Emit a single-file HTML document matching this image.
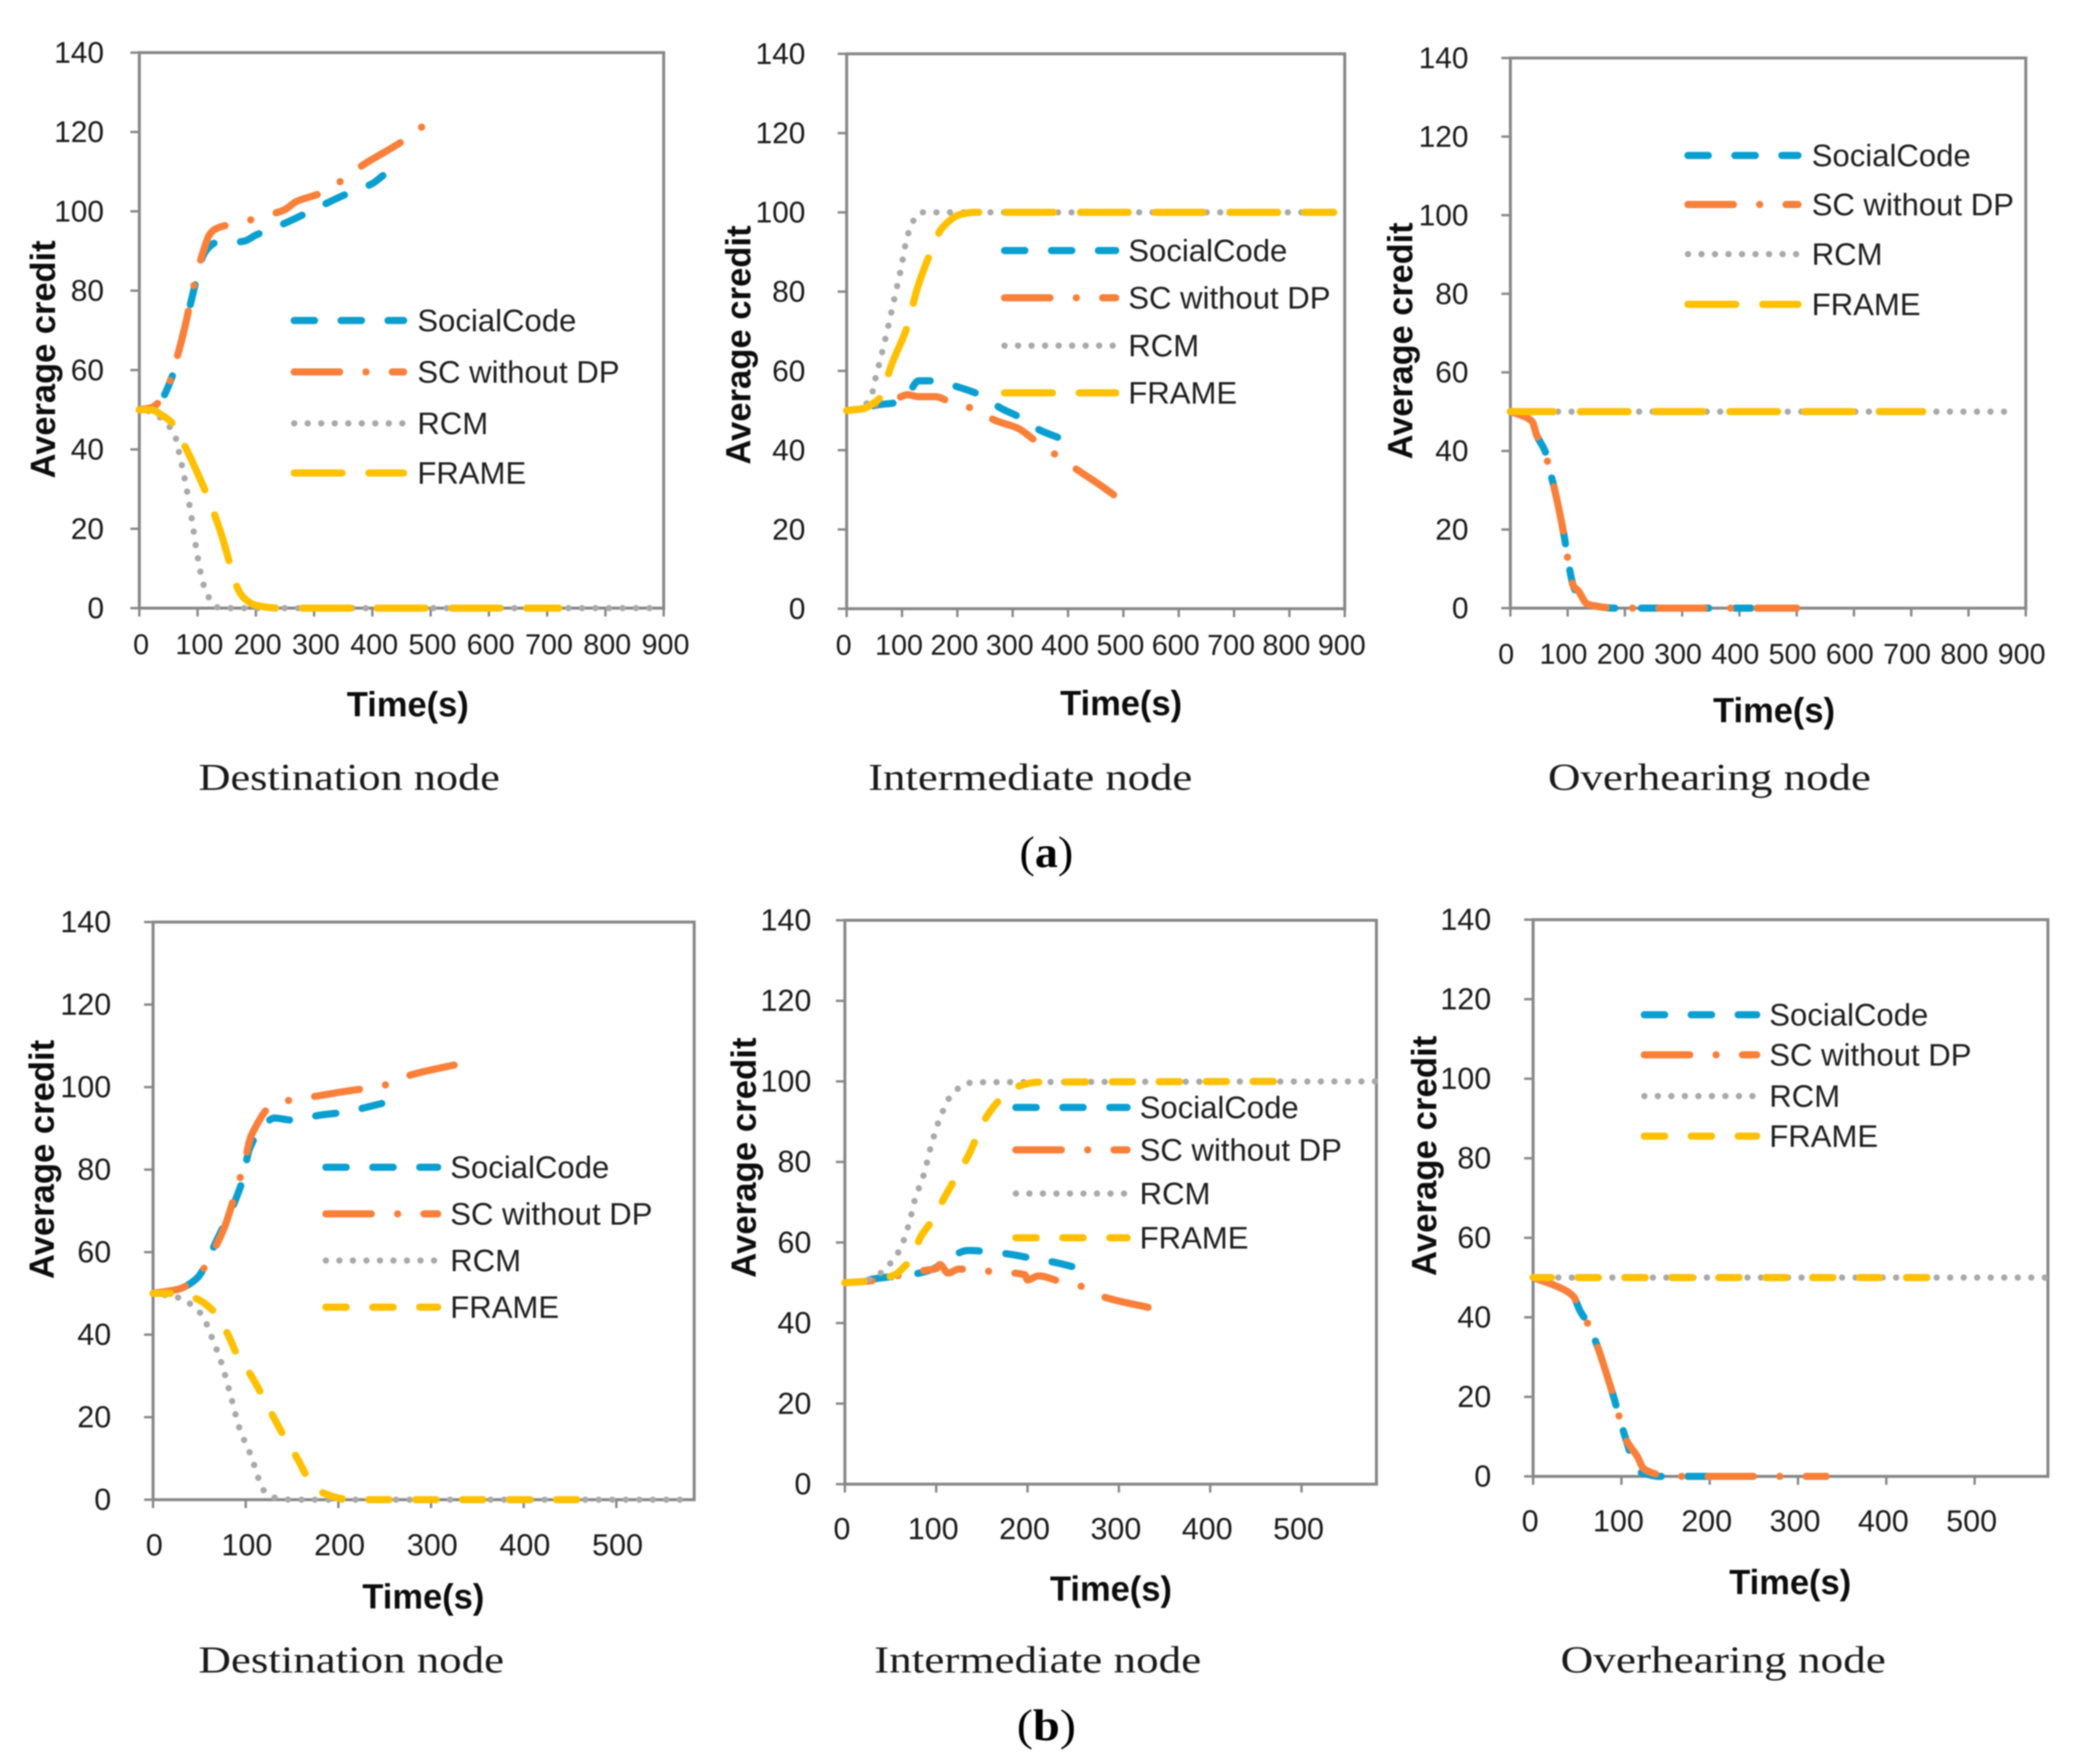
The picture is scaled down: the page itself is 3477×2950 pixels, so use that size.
<!DOCTYPE html>
<html lang="en">
<head>
<meta charset="utf-8">
<title>Average credit over time</title>
<style>
html,body{margin:0;padding:0;background:#fff;width:3477px;height:2950px;overflow:hidden}
svg{display:block;filter:blur(1px)}
.tick{font-family:"Liberation Sans",sans-serif;fill:#1a1a1a}
.legend-text{font-family:"Liberation Sans",sans-serif;font-size:52px;fill:#1f1f1f}
.axis-title{font-family:"Liberation Sans",sans-serif;font-weight:bold;font-size:58px;fill:#0d0d0d}
.caption{font-family:"Liberation Serif",serif;font-size:63px;fill:#1a1a1a}
.figure-label{font-family:"Liberation Serif",serif;font-size:74px;fill:#000}
</style>
</head>
<body>
<svg id="figure" xmlns="http://www.w3.org/2000/svg" width="3477" height="2950" viewBox="0 0 3477 2950">
<rect x="0" y="0" width="3477" height="2950" fill="#ffffff"/>
<text class="figure-label" x="1750" y="1450" text-anchor="middle" textLength="90" lengthAdjust="spacingAndGlyphs">(<tspan font-weight="bold">a</tspan>)</text>
<text class="figure-label" x="1750" y="2910" text-anchor="middle" textLength="99" lengthAdjust="spacingAndGlyphs">(<tspan font-weight="bold">b</tspan>)</text>
</svg>
<script>
/* Shared axis labels */
const yTickLabels = [0, 20, 40, 60, 80, 100, 120, 140];
const xTickLabelsA = [0, 100, 200, 300, 400, 500, 600, 700, 800, 900];
const xTickLabelsB = [0, 100, 200, 300, 400, 500];
const seriesNames = ['SocialCode', 'SC without DP', 'RCM', 'FRAME'];

/* (a) Destination node */
const a1SocialT = [0, 20, 40, 50, 60, 70, 80, 90, 100, 110, 120, 130, 150, 180, 200, 250, 300, 350, 400, 418];
const a1SocialY = [50, 50.5, 53, 56, 60, 66, 72, 78, 84, 89, 91, 92, 92, 92.5, 94, 97, 100.5, 104, 107, 109];
const a1OrangeT = [0, 20, 40, 50, 60, 70, 80, 90, 100, 110, 120, 130, 150, 170, 208, 248, 270, 310, 350, 381, 452, 488];
const a1OrangeY = [50, 50.5, 53, 56, 61, 66, 72, 79, 85, 90, 94, 95.5, 96.5, 97, 98.6, 100.3, 102.5, 104.5, 108, 111.4, 117.7, 121.6];
const a1RcmT = [0, 20, 40, 50, 60, 70, 80, 90, 100, 110, 120, 130, 140, 880];
const a1RcmY = [50, 49.5, 47.5, 46, 44, 38, 31, 22.5, 13, 6, 2.5, 0.5, 0, 0];
const a1FrameT = [0, 20, 40, 50, 60, 70, 82, 100, 118, 140, 157, 169, 180, 200, 240, 720];
const a1FrameY = [50, 50, 48.5, 47.5, 46, 43, 39.7, 34, 27.8, 19, 10.4, 4.9, 2.5, 0.7, 0, 0];

/* (a) Intermediate node */
const a2SocialT = [0, 60, 90, 110, 130, 160, 200, 240, 280, 310, 350, 386];
const a2SocialY = [50, 51.5, 52, 54, 57.5, 57.5, 56, 54, 50.5, 48.5, 45, 43];
const a2OrangeT = [0, 30, 60, 90, 110, 130, 160, 204, 231, 267, 310, 338, 374, 414, 460, 485];
const a2OrangeY = [50, 50.5, 52, 53, 54, 53.5, 53.5, 51, 50.6, 47.6, 45.5, 42.7, 39.2, 35.3, 31, 28.5];
const a2RcmT = [0, 30, 45, 53, 61, 73, 81, 89, 97, 109, 120, 135, 880];
const a2RcmY = [50, 51, 54, 58.7, 63, 70, 75, 80, 85, 93.6, 97.8, 100, 100];
const a2FrameT = [0, 30, 50, 65, 75, 81, 109, 128, 152, 172, 204, 230, 880];
const a2FrameY = [50, 50.5, 52, 54, 59, 61.5, 71, 81, 90, 96, 99.4, 100, 100];

/* (a) Overhearing node */
const a3SocialT = [0, 20, 38, 46, 62, 66, 76, 94, 102, 110, 115, 120, 130, 150, 180, 420];
const a3SocialY = [50, 49, 47.5, 44, 39.4, 36.5, 31, 18.3, 11, 5.6, 4, 3, 1.5, 0.5, 0, 0];
const a3OrangeT = [0, 20, 38, 46, 62, 66, 76, 94, 102, 110, 118, 134, 158, 190, 500];
const a3OrangeY = [50, 49, 47.5, 44, 39.4, 36.5, 31, 18.3, 11, 5.6, 4.5, 1.1, 0.3, 0, 0];
const a3RcmT = [0, 865];
const a3RcmY = [50, 50];
const a3FrameT = [0, 720];
const a3FrameY = [50, 50];

/* (b) Destination node */
const b1SocialT = [0, 27, 47, 69, 96, 104, 116, 131, 150, 180, 205, 254];
const b1SocialY = [50, 51, 53.6, 63, 77, 85, 89.7, 92.5, 92, 93.2, 93.9, 96.4];
const b1OrangeT = [0, 27, 47, 62, 77, 89, 99, 106, 131, 163, 200, 254, 279, 328];
const b1OrangeY = [50, 51, 53.6, 59, 66, 74.4, 82, 88.3, 96, 97.3, 98.7, 100.7, 103, 105.5];
const b1RcmT = [0, 27, 52, 64, 74, 84, 94, 106, 114, 121, 133, 150, 583];
const b1RcmY = [50, 49, 45, 39, 33, 25, 16.8, 10.5, 5, 1.8, 0.4, 0, 0];
const b1FrameT = [0, 27, 47, 67, 81.5, 91, 106, 118.5, 131, 143, 156, 168, 185, 210, 235, 467];
const b1FrameY = [50, 50, 48.7, 45.3, 39.7, 35, 30, 25, 19.6, 14.7, 9.9, 5, 1.5, 0.1, 0, 0];

/* (b) Intermediate node */
const b2SocialT = [0, 58, 72, 96.5, 113, 135, 159, 183, 202, 231, 252.6];
const b2SocialY = [50, 51.7, 52, 53.4, 56, 58, 57.7, 57, 56.2, 55, 53.8];
const b2OrangeT = [0, 20, 45, 70, 85, 100, 104, 113, 125, 145, 170, 197, 200, 212, 236, 262, 286, 332];
const b2OrangeY = [50, 50.3, 51, 52.5, 53, 53.5, 54.5, 52.4, 53.4, 53, 52.7, 52, 50.7, 51.7, 50.3, 48.9, 46.3, 43.9];
const b2RcmT = [0, 29, 48.5, 60.5, 70, 77, 87, 94, 104, 116, 135, 154, 583];
const b2RcmY = [50, 51, 54.5, 58.4, 64.5, 70.9, 77.3, 83.7, 90.8, 96.4, 99.6, 99.8, 100];
const b2FrameT = [0, 20, 40, 55, 65, 75, 82, 94, 111, 135, 154, 171, 192.6, 212, 476];
const b2FrameY = [50, 50.3, 51, 52, 54, 56.5, 61, 65, 72, 81.5, 90.8, 95.7, 99, 99.8, 100];

/* (b) Overhearing node */
const b3SocialT = [0, 30, 45.5, 53, 61, 71, 82, 92, 97, 105, 118, 125, 143, 198];
const b3SocialY = [50, 47.5, 45.3, 41.7, 38.8, 33.8, 26.6, 19.4, 15.4, 9.4, 1.5, 0.8, 0, 0];
const b3OrangeT = [0, 30, 45.5, 53, 61, 71, 82, 92, 97, 105, 118, 125.5, 143.6, 170, 332];
const b3OrangeY = [50, 47.5, 45.3, 41.7, 38.8, 33.8, 26.6, 19.4, 15.4, 9.4, 5, 1.9, 0.4, 0, 0];
const b3RcmT = [0, 583];
const b3RcmY = [50, 50];
const b3FrameT = [0, 455];
const b3FrameY = [50, 50];

/* Layout and styling */
const NS = 'http://www.w3.org/2000/svg';
const svg = document.getElementById('figure');
const AXIS = '#888888';
const DASH_SHORT = '34 44.5';
const DASH_DOT = '76 44 0.1 44';
const DASH_LONG = '80 45';
const DOT = '0.1 22.5';
const seriesColors = ['#0a9fd0', '#f9803a', '#a9a9a9', '#ffc000'];
const seriesKeys = ['social-code', 'sc-without-dp', 'rcm', 'frame'];

/* phase: the time at which a dash begins for each series, so the dash pattern lines up */
const panels = [
  {id:'a-destination', L:233, R:1110, T:88, B:1017, xMax:900, xLabels:xTickLabelsA, yFont:50, xFont:48, yRight:174, xDx:3, xBase:1094,
   data:[[a1SocialT,a1SocialY],[a1OrangeT,a1OrangeY],[a1RcmT,a1RcmY],[a1FrameT,a1FrameY]], frameDash:DASH_LONG, phase:[393,381,735,279],
   legX:486, legW:195, legY:[536,622,708,791], legText:698,
   timeX:682, timeY:1198, yTitleX:92, yTitleY:601, yTitleLen:398,
   caption:'Destination node', capX:332, capW:504, capY:1321},
  {id:'a-intermediate', L:1416, R:2249, T:90, B:1018, xMax:900, xLabels:xTickLabelsA, yFont:50, xFont:48, yRight:1347, xDx:-5, xBase:1095,
   data:[[a2SocialT,a2SocialY],[a2OrangeT,a2OrangeY],[a2RcmT,a2RcmY],[a2FrameT,a2FrameY]], frameDash:DASH_LONG, phase:[346,414,406,287],
   legX:1674, legW:198, legY:[419,498,578,657], legText:1887,
   timeX:1875, timeY:1196, yTitleX:1255, yTitleY:577, yTitleLen:400,
   caption:'Intermediate node', capX:1452, capW:542, capY:1321},
  {id:'a-overhearing', L:2526, R:3388, T:97, B:1017, xMax:900, xLabels:xTickLabelsA, yFont:50, xFont:48, yRight:2456, xDx:-7, xBase:1110,
   data:[[a3SocialT,a3SocialY],[a3OrangeT,a3OrangeY],[a3RcmT,a3RcmY],[a3FrameT,a3FrameY]], frameDash:DASH_LONG, phase:[392,76,743,122],
   legX:2817, legW:196, legY:[260,342,425,509], legText:3030,
   timeX:2967, timeY:1208, yTitleX:2362, yTitleY:570, yTitleLen:396,
   caption:'Overhearing node', capX:2589, capW:540, capY:1321},
  {id:'b-destination', L:256, R:1161, T:1542, B:2508, xMax:584, xLabels:xTickLabelsB, yFont:51, xFont:51, yRight:186, xDx:2, xBase:2601,
   data:[[b1SocialT,b1SocialY],[b1OrangeT,b1OrangeY],[b1RcmT,b1RcmY],[b1FrameT,b1FrameY]], frameDash:DASH_SHORT, phase:[225,277,495,232],
   legX:539, legW:199, legY:[1952,2030,2108,2186], legText:753,
   timeX:708, timeY:2690, yTitleX:90, yTitleY:1939, yTitleLen:400,
   caption:'Destination node', capX:332, capW:511, capY:2797},
  {id:'b-intermediate', L:1413, R:2302, T:1539, B:2482, xMax:582, xLabels:xTickLabelsB, yFont:51, xFont:51, yRight:1357, xDx:-5, xBase:2574,
   data:[[b2SocialT,b2SocialY],[b2OrangeT,b2OrangeY],[b2RcmT,b2RcmY],[b2FrameT,b2FrameY]], frameDash:DASH_SHORT, phase:[226,284,506,240.6],
   legX:1693, legW:198, legY:[1852,1923,1996,2070], legText:1906,
   timeX:1858, timeY:2677, yTitleX:1264, yTitleY:1936, yTitleLen:402,
   caption:'Intermediate node', capX:1462, capW:547, capY:2797},
  {id:'b-overhearing', L:2564, R:3425, T:1538, B:2469, xMax:583, xLabels:xTickLabelsB, yFont:51, xFont:51, yRight:2494, xDx:-5, xBase:2561,
   data:[[b3SocialT,b3SocialY],[b3OrangeT,b3OrangeY],[b3RcmT,b3RcmY],[b3FrameT,b3FrameY]], frameDash:DASH_SHORT, phase:[175,198,472,50.6],
   legX:2744, legW:200, legY:[1697,1764,1833,1900], legText:2959,
   timeX:2994, timeY:2666, yTitleX:2402, yTitleY:1933, yTitleLen:402,
   caption:'Overhearing node', capX:2610, capW:544, capY:2797}
];

function make(tag, attrs, parent) {
  const el = document.createElementNS(NS, tag);
  for (const k in attrs) el.setAttribute(k, attrs[k]);
  parent.appendChild(el);
  return el;
}

/* Monotone cubic through the scaled points, like a smoothed spreadsheet line */
function smoothPath(xs, ys) {
  const n = xs.length;
  if (n < 3) return 'M' + xs[0] + ',' + ys[0] + ' L' + xs[n - 1] + ',' + ys[n - 1];
  const s = [];
  for (let i = 0; i < n - 1; i++) s.push((ys[i + 1] - ys[i]) / (xs[i + 1] - xs[i]));
  const m = [s[0]];
  for (let i = 1; i < n - 1; i++) {
    m.push(s[i - 1] * s[i] <= 0 ? 0 : 2 * s[i - 1] * s[i] / (s[i - 1] + s[i]));
  }
  m.push(s[n - 2]);
  let d = 'M' + xs[0].toFixed(1) + ',' + ys[0].toFixed(1);
  for (let i = 0; i < n - 1; i++) {
    const h = (xs[i + 1] - xs[i]) / 3;
    d += ' C' + (xs[i] + h).toFixed(1) + ',' + (ys[i] + m[i] * h).toFixed(1) + ' ' +
      (xs[i + 1] - h).toFixed(1) + ',' + (ys[i + 1] - m[i + 1] * h).toFixed(1) + ' ' +
      xs[i + 1].toFixed(1) + ',' + ys[i + 1].toFixed(1);
  }
  return d;
}

function lengthAtX(path, targetX) {
  const total = path.getTotalLength();
  for (let l = 0; l <= total; l += 1.5) {
    if (path.getPointAtLength(l).x >= targetX) return l;
  }
  return total;
}

function drawPanel(p) {
  const xScale = v => p.L + (v / p.xMax) * (p.R - p.L);
  const yScale = v => p.B - (v / 140) * (p.B - p.T);

  const group = make('g', {}, svg);
  
  

  const frame = make('rect', {x:p.L, y:p.T, width:p.R - p.L, height:p.B - p.T, fill:'none', stroke:AXIS, 'stroke-width':5}, group);
  
  

  yTickLabels.forEach(v => {
    const y = yScale(v);
    const mark = make('line', {x1:p.L - 15, x2:p.L, y1:y, y2:y, stroke:AXIS, 'stroke-width':4}, group);
    
    
    const label = make('text', {class:'tick', x:p.yRight, y:y + 17, 'text-anchor':'end', 'font-size':p.yFont}, group);
    label.textContent = v;
    
    
  });

  p.xLabels.forEach(v => {
    const x = xScale(v);
    const mark = make('line', {x1:x, x2:x, y1:p.B, y2:p.B + 14, stroke:AXIS, 'stroke-width':4}, group);
    
    
    const label = make('text', {class:'tick', x:x + p.xDx, y:p.xBase, 'text-anchor':'middle', 'font-size':p.xFont}, group);
    label.textContent = v;
    
    
  });

  const dashes = [DASH_SHORT, DASH_DOT, DOT, p.frameDash];
  const widths = [12, 12, 10.5, 12];
  p.data.forEach((s, i) => {
    const d = smoothPath(s[0].map(xScale), s[1].map(yScale));
    const line = make('path', {d:d, fill:'none', stroke:seriesColors[i], 'stroke-width':widths[i],
      'stroke-dasharray':dashes[i], 'stroke-linecap':'round', 'stroke-linejoin':'round'}, group);
    line.setAttribute('stroke-dashoffset', -lengthAtX(line, xScale(p.phase[i])));
    
    
  });

  seriesNames.forEach((name, i) => {
    const y = p.legY[i];
    const sample = make('line', {x1:p.legX + 6, x2:p.legX + p.legW - 6, y1:y, y2:y, stroke:seriesColors[i],
      'stroke-width':widths[i], 'stroke-dasharray':dashes[i], 'stroke-linecap':'round'}, group);
    
    
    const label = make('text', {class:'legend-text', x:p.legText, y:y + 18}, group);
    label.textContent = name;
    
    
  });

  const timeTitle = make('text', {class:'axis-title', x:p.timeX, y:p.timeY, 'text-anchor':'middle', textLength:204, lengthAdjust:'spacingAndGlyphs'}, group);
  timeTitle.textContent = 'Time(s)';
  
  

  const yTitle = make('text', {class:'axis-title', x:0, y:0, 'text-anchor':'middle', textLength:p.yTitleLen, lengthAdjust:'spacingAndGlyphs',
    transform:'translate(' + p.yTitleX + ',' + p.yTitleY + ') rotate(-90)'}, group);
  yTitle.textContent = 'Average credit';
  
  

  const caption = make('text', {class:'caption', x:p.capX, y:p.capY, textLength:p.capW, lengthAdjust:'spacingAndGlyphs'}, group);
  caption.textContent = p.caption;
  
  
}

panels.forEach(drawPanel);
</script>
</body>
</html>
